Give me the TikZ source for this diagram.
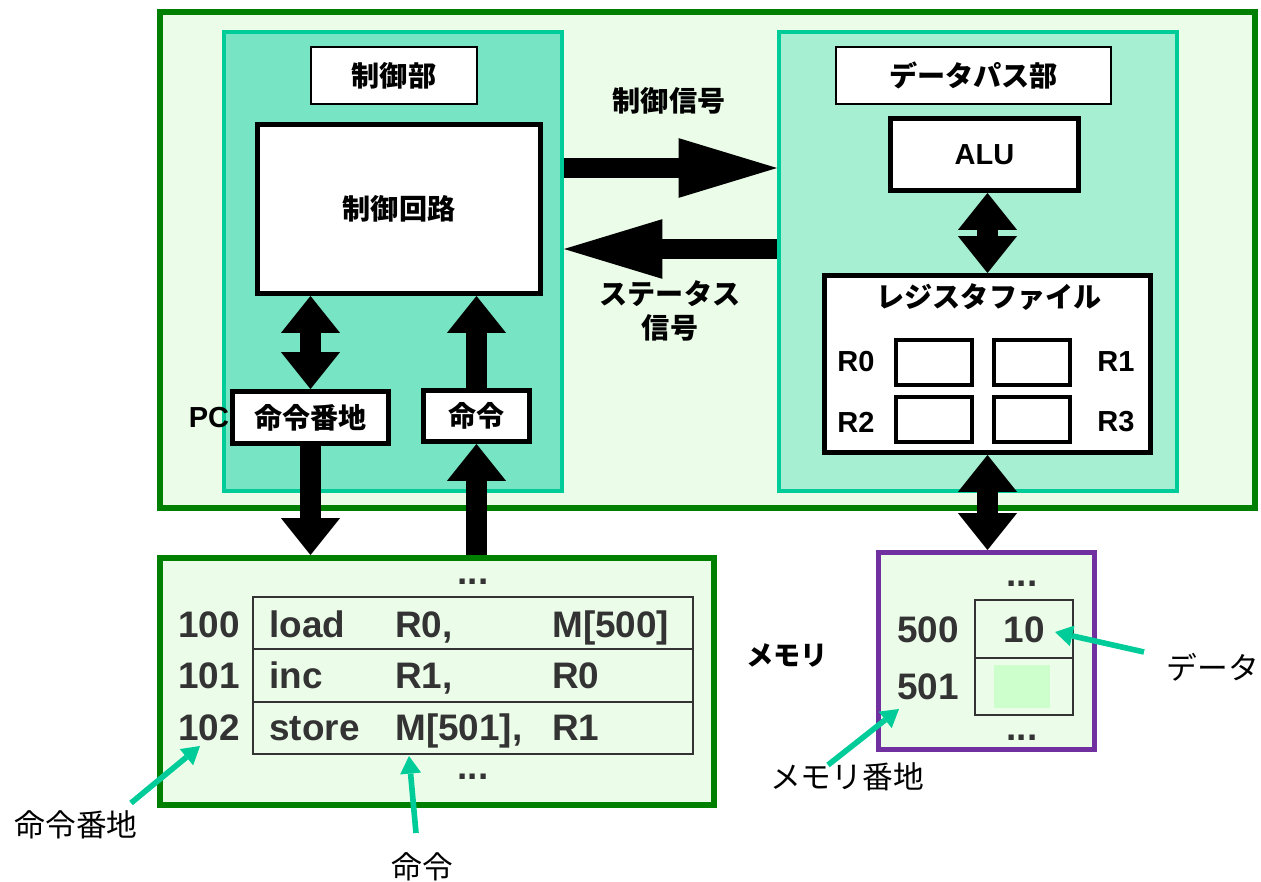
\documentclass[tikz,border=0pt]{standalone}
\usepackage{fontspec}
\setmainfont{Liberation Sans}
\newfontfamily\jp{Noto Sans CJK JP}
\usetikzlibrary{arrows.meta,positioning}

\definecolor{cpufill}{RGB}{235,253,233}
\definecolor{cpuline}{RGB}{0,128,0}
\definecolor{unitline}{RGB}{0,204,153}
\definecolor{cufill}{RGB}{119,229,195}
\definecolor{dpfill}{RGB}{166,239,211}
\definecolor{memline}{RGB}{112,48,160}
\definecolor{celltext}{RGB}{51,51,51}
\definecolor{cellgreen}{RGB}{204,255,204}

\tikzset{
  sz/.style 2 args={minimum width=#1*0.02cm, minimum height=#2*0.02cm, inner sep=0pt},
  jb/.style={font=\jp\bfseries\fontsize{16}{19.3}\selectfont},
  jr/.style={font=\jp\fontsize{17.5}{21}\selectfont},
  lb/.style={font=\bfseries\fontsize{16.5}{19}\selectfont},
  code/.style={font=\bfseries\fontsize{21}{25}\selectfont, text=celltext, inner sep=0pt},
  unit/.style={draw=unitline, line width=2.3pt},
  lblbox/.style={draw, fill=white, line width=0.9pt},
  blk/.style={draw, fill=white, line width=2.8pt},
  regbox/.style={draw, fill=white, line width=2.3pt},
  cell/.style={draw=celltext, line width=0.9pt},
  bus/.style={line width=11.4pt},
  pointer/.style={draw=unitline, line width=3.2pt, -{Triangle[width=12pt,length=10pt,line width=0pt]}},
  htip/.tip={Triangle[width=34pt,length=56pt,line width=0pt]}
}

\begin{document}
\begin{tikzpicture}[x=0.02cm,y=-0.02cm,>={Triangle[width=33.6pt,length=21pt,line width=0pt]}]
\useasboundingbox (0,0) rectangle (1261,882);
% CPU
\node[sz={1095}{496}, draw=cpuline, fill=cpufill, line width=3.4pt] (cpu) at (707.5,260) {};
\node[unit, fill=cufill, sz={338}{459}] (cu) at (393,261.5) {};
\node[unit, fill=dpfill, sz={398}{459}] (dp) at (978,261.5) {};

% control unit
\node[lblbox, sz={166}{57}, jb] (culbl) at (394,75.5) {制御部};
\node[blk, sz={283}{169}, jb] (circ) at (399,209) {制御回路};
\node[blk, sz={156}{52}, jb] (pcbox) at (310.5,417.5) {命令番地};
\node[blk, sz={106}{51}, jb] (insbox) at (476.5,416) {命令};
\node[lb, left=-3pt of pcbox] (pc) {PC};

% datapath
\node[lblbox, sz={275}{57}, jb] (dplbl) at (973.5,75.5) {データパス部};
\node[blk, sz={188}{72}, lb] (alu) at (984.5,154.5) {ALU};
\node[blk, sz={326}{177}] (rf) at (987.5,364) {};
\node[jb] (rflbl) at (989,297) {レジスタファイル};
\foreach \n/\x/\y in {0/934/362.5,1/1032/362.5,2/934/419.5,3/1032/419.5}
  \node[regbox, sz={76}{45}] (r\n) at (\x,\y) {};
\foreach \n/\x/\y in {0/856/362,1/1116/362,2/856/422,3/1116/422}
  \node[lb] (rl\n) at (\x,\y) {R\n};

% signals
\node[jb] (siglbl) at (669,101) {制御信号};
\node[jb, align=center] (stlbl) at (670,311) {ステータス\\信号};

% program memory
\node[sz={554}{247}, draw=cpuline, fill=cpufill, line width=3.4pt] (prog) at (437,681.5) {};
\foreach \r/\y in {1/623,2/675.5,3/728}
  \node[cell, sz={440}{52.3}] (row\r) at (473,\y) {};
\node[code, anchor=base] (pdots1) at (473,584) {...};
\node[code, anchor=base] (pdots2) at (473,779) {...};
\node[code, anchor=base] (a100) at (209,637) {100};
\node[code, anchor=base west] (op1) at (269,637) {load};
\node[code, anchor=base west] (x1) at (395,637) {R0,};
\node[code, anchor=base west] (y1) at (552,637) {M[500]};
\node[code, anchor=base] (a101) at (209,688) {101};
\node[code, anchor=base west] (op2) at (269,688) {inc};
\node[code, anchor=base west] (x2) at (395,688) {R1,};
\node[code, anchor=base west] (y2) at (552,688) {R0};
\node[code, anchor=base] (a102) at (209,740) {102};
\node[code, anchor=base west] (op3) at (269,740) {store};
\node[code, anchor=base west] (x3) at (395,740) {M[501],};
\node[code, anchor=base west] (y3) at (552,740) {R1};

% data memory
\node[sz={216}{197}, draw=memline, fill=cpufill, line width=2.8pt] (mem) at (986.5,651) {};
\node[cell, sz={98}{58}] (c500) at (1024,629) {};
\node[cell, sz={98}{57}] (c501) at (1024,686.5) {};
\node[fill=cellgreen, sz={56}{43}] (blank) at (1022,686.5) {};
\node[code, anchor=base] (mdots1) at (1022,586) {...};
\node[code, anchor=base] (mdots2) at (1022,740) {...};
\node[code, anchor=base] (m500) at (928,642) {500};
\node[code, anchor=base] (m501) at (928,699) {501};
\node[code, anchor=base] (ten) at (1024,642) {10};
\node[jb, font=\jp\bfseries\fontsize{15.5}{18}\selectfont] (memlbl) at (787,655) {メモリ};

% callouts
\node[jr] (datalbl) at (1213,667) {データ};
\node[jr] (maddr) at (847,777) {メモリ番地};
\node[jr] (iaddr) at (76,825) {命令番地};
\node[jr] (ilbl) at (422,867) {命令};
\coordinate (dtail) at (1144,652);
\coordinate (dhead) at (1055,632);
\coordinate (mtail) at (828,765);
\coordinate (mhead) at (899,709);
\coordinate (atail) at (131,803);
\coordinate (ahead) at (200,746);
\coordinate (itail) at (416,833);
\coordinate (ihead) at (409,756);
\draw[pointer] (dtail) -- (dhead);
\draw[pointer] (mtail) -- (mhead);
\draw[pointer] (atail) -- (ahead);
\draw[pointer] (itail) -- (ihead);

% buses
\coordinate (sig) at (0,168);
\coordinate (st) at (0,249);
\draw[bus,-htip] (cu.east |- sig) -- (dp.west |- sig);
\draw[bus,-htip] (dp.west |- st) -- (cu.east |- st);
\draw[bus,<->] (pcbox.north) -- (pcbox.north |- circ.south);
\draw[bus,->] (insbox.north) -- (insbox.north |- circ.south);
\draw[bus,->] (pcbox.south) -- (pcbox.south |- prog.north);
\draw[bus,->] (insbox.south |- prog.north) -- (insbox.south);
\draw[bus,<->] (rf.north) -- (rf.north |- alu.south);
\draw[bus,<->] (rf.south) -- (rf.south |- mem.north);
\end{tikzpicture}
\end{document}
